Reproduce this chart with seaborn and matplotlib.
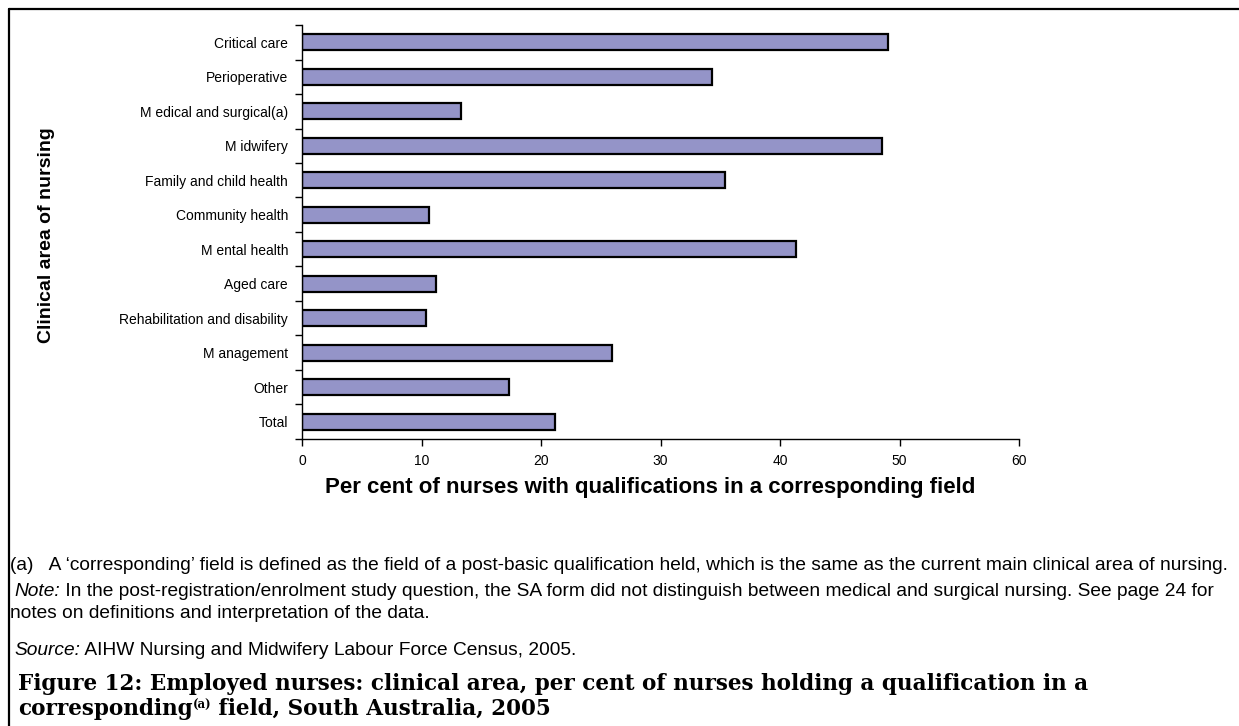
import matplotlib
matplotlib.use("Agg")
import matplotlib.pyplot as plt
from matplotlib.lines import Line2D
import seaborn as sns
import pandas as pd

# -----------------------------
# data
# -----------------------------
areas = ["Critical care", "Perioperative", "M edical and surgical(a)", "M idwifery",
         "Family and child health", "Community health", "M ental health", "Aged care",
         "Rehabilitation and disability", "M anagement", "Other", "Total"]
percent = [49.0, 34.3, 13.3, 48.5, 35.4, 10.6, 41.3, 11.2, 10.4, 25.9, 17.3, 21.2]
x_ticks = [0, 10, 20, 30, 40, 50, 60]

df = pd.DataFrame({"area": areas, "pct": percent})

sns.set_style("white")
plt.rcParams["font.family"] = ["Liberation Sans", "DejaVu Sans"]
plt.rcParams["text.color"] = "black"
plt.rcParams["xtick.color"] = "black"
plt.rcParams["ytick.color"] = "black"

W, H = 1239, 726
fig = plt.figure(figsize=(W / 100, H / 100), dpi=100)
ax = fig.add_axes([302 / W, 1 - 439 / H, (1019 - 302) / W, (439 - 25) / H])

sns.barplot(data=df, x="pct", y="area", orient="h", color="#9494C8", saturation=1,
            edgecolor="black", linewidth=1.6, width=0.45, ax=ax)

ax.set_xlim(0, 60)
ax.set_ylim(len(areas) - 0.5, -0.5)
ax.set_xticks(x_ticks)
ax.set_xticklabels([str(t) for t in x_ticks], fontsize=10)
ax.set_yticks(range(len(areas)))
ax.set_yticklabels(areas, fontsize=10)
ax.set_yticks([i - 0.5 for i in range(len(areas) + 1)], minor=True)
ax.tick_params(axis="y", which="major", length=0, pad=10)
ax.tick_params(axis="y", which="minor", length=5, width=1, direction="out", color="black", left=True)
ax.tick_params(axis="x", length=5, width=1, direction="out", color="black", bottom=True, pad=6)
for side in ["top", "right"]:
    ax.spines[side].set_visible(False)
for side in ["left", "bottom"]:
    ax.spines[side].set_color("black")
    ax.spines[side].set_linewidth(1)
ax.set_xlabel("")
ax.set_ylabel("")

fig.text(650 / W, 1 - 487 / H, "Per cent of nurses with qualifications in a corresponding field",
         ha="center", va="center", fontsize=16, fontweight="bold")
fig.text(47 / W, 1 - 235 / H, "Clinical area of nursing", rotation=90,
         ha="center", va="center", fontsize=14, fontweight="bold")

# notes under the chart
fs = 13.8
fig.text(10 / W, 1 - 566 / H,
         "(a)   A \u2018corresponding\u2019 field is defined as the field of a post-basic qualification held, "
         "which is the same as the current main clinical area of nursing.",
         ha="left", va="center", fontsize=fs)

renderer = fig.canvas.get_renderer()


def run_on(x_px, y_px, parts):
    # write pieces of text one after another on one line
    for txt, kw in parts:
        t = fig.text(x_px / W, 1 - y_px / H, txt, ha="left", va="baseline", **kw)
        x_px = t.get_window_extent(renderer).x1


run_on(14, 596, [("Note:", dict(fontsize=fs, style="italic")),
                 (" In the post-registration/enrolment study question, the SA form did not distinguish "
                  "between medical and surgical nursing. See page 24 for", dict(fontsize=fs))])
fig.text(10 / W, 1 - 618 / H, "notes on definitions and interpretation of the data.",
         ha="left", va="baseline", fontsize=fs)
run_on(14, 655, [("Source:", dict(fontsize=fs, style="italic")),
                 (" AIHW Nursing and Midwifery Labour Force Census, 2005.", dict(fontsize=fs))])

tfont = dict(family=["DejaVu Serif"], fontweight="bold", fontsize=15.5)
fig.text(18 / W, 1 - 690 / H,
         "Figure 12: Employed nurses: clinical area, per cent of nurses holding a qualification in a",
         ha="left", va="baseline", **tfont)
run_on(18, 715, [("corresponding", tfont),
                 ("(a)", dict(family=["DejaVu Serif"], fontweight="bold", fontsize=8.5)),
                 (" field, South Australia, 2005", tfont)])

# superscript shift for the (a) in the caption
for t in fig.texts:
    if t.get_text() == "(a)" and t.get_fontsize() < 10:
        x0, y0 = t.get_position()
        t.set_position((x0, y0 + 6 / H))

# frame round the figure (top and left edges visible)
fig.add_artist(Line2D([8.5 / W, 1], [1 - 8.5 / H, 1 - 8.5 / H], color="black", lw=1.6))
fig.add_artist(Line2D([8.5 / W, 8.5 / W], [0, 1 - 8.5 / H], color="black", lw=1.6))

fig.savefig("out.png", dpi=100)
